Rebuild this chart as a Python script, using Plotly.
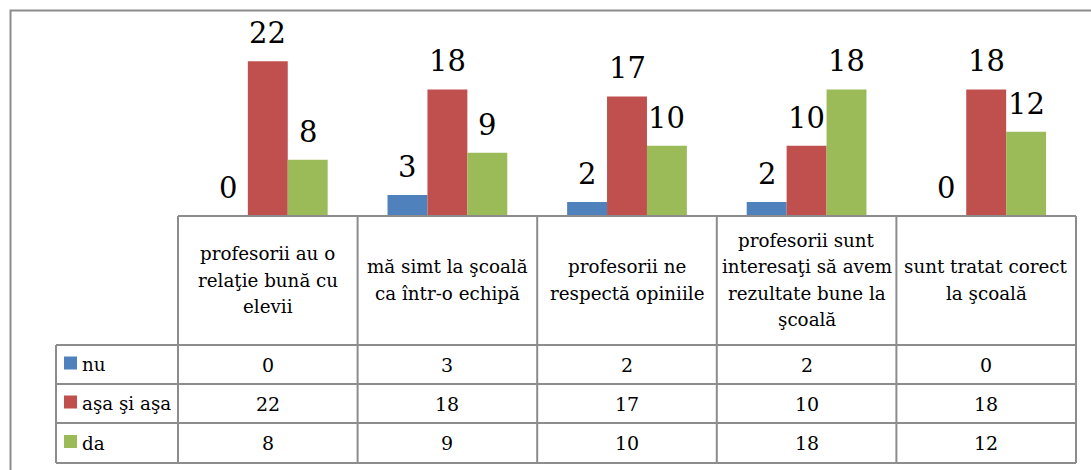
import plotly.graph_objects as go

W, H = 1091, 470

categories = [
    "profesorii au o<br>relaţie bună cu<br>elevii",
    "mă simt la şcoală<br>ca într-o echipă",
    "profesorii ne<br>respectă opiniile",
    "profesorii sunt<br>interesaţi să avem<br>rezultate bune la<br>şcoală",
    "sunt tratat corect<br>la şcoală",
]
series_names = ["nu", "aşa şi aşa", "da"]
nu = [0, 3, 2, 2, 0]
asa = [22, 18, 17, 10, 18]
da = [8, 9, 10, 18, 12]
series_values = [nu, asa, da]
colors = ["#4F81BD", "#C0504D", "#9BBB59"]

FONT = "DejaVu Serif"
GRID = "#8C8C8C"
LABEL_SIZE = 29
HEADER_SIZE = 18.3
TABLE_SIZE = 19

PX_L, PX_R = 178, 1076
PX_BASE, PX_TOP = 216, 40.25
Y_MAX = 25
ROW_LINES = [345, 384, 423, 463]
ROWLAB_L = 56


def px(x):
    return x / W


def py(y):
    return 1 - y / H


cat_w = (PX_R - PX_L) / len(categories)
bar_w = cat_w * (2 / 3) / 3

fig = go.Figure()
for name, vals, col in zip(series_names, series_values, colors):
    fig.add_trace(go.Bar(x=list(range(len(categories))), y=vals, name=name,
                         marker=dict(color=col, line=dict(width=0)),
                         showlegend=False, hoverinfo="skip"))

annotations = []
shapes = []

for i, vals in enumerate(series_values):
    for j, v in enumerate(vals):
        annotations.append(dict(x=j, y=v, xref="x", yref="y", text=str(v),
                                showarrow=False, xshift=(i - 1) * bar_w,
                                yanchor="bottom", yshift=9,
                                font=dict(family=FONT, size=LABEL_SIZE, color="black")))

LINE_SP = 26.5
HDR_CENTER = 280
for j, cat in enumerate(categories):
    lines = cat.split("<br>")
    n = len(lines)
    for k, ln in enumerate(lines):
        yc = HDR_CENTER + (k - (n - 1) / 2) * LINE_SP
        annotations.append(dict(x=j, y=py(yc), xref="x", yref="paper", text=ln,
                                showarrow=False, yanchor="middle",
                                font=dict(family=FONT, size=HEADER_SIZE, color="black")))

for r, (name, vals, col) in enumerate(zip(series_names, series_values, colors)):
    y0, y1 = ROW_LINES[r], ROW_LINES[r + 1]
    yc = (y0 + y1) / 2
    shapes.append(dict(type="rect", xref="paper", yref="paper",
                       x0=px(64), x1=px(77), y0=py(yc - 8), y1=py(yc + 5),
                       fillcolor=col, line=dict(width=0)))
    annotations.append(dict(x=px(80), y=py(yc), xref="paper", yref="paper",
                            text=name, showarrow=False, xanchor="left",
                            yanchor="middle",
                            font=dict(family=FONT, size=HEADER_SIZE, color="black")))
    for j, v in enumerate(vals):
        annotations.append(dict(x=j, y=py(yc), xref="x", yref="paper",
                                text=str(v), showarrow=False, yanchor="middle",
                                font=dict(family=FONT, size=TABLE_SIZE, color="black")))

line_style = dict(color=GRID, width=2)
shapes.append(dict(type="line", xref="paper", yref="paper",
                   x0=px(PX_L), x1=px(PX_R), y0=py(PX_BASE), y1=py(PX_BASE),
                   line=line_style))
for yl in ROW_LINES:
    shapes.append(dict(type="line", xref="paper", yref="paper",
                       x0=px(ROWLAB_L), x1=px(PX_R), y0=py(yl), y1=py(yl),
                       line=line_style))
for j in range(len(categories) + 1):
    xl = PX_L + j * cat_w
    shapes.append(dict(type="line", xref="paper", yref="paper",
                       x0=px(xl), x1=px(xl), y0=py(PX_BASE), y1=py(ROW_LINES[-1]),
                       line=line_style))
shapes.append(dict(type="line", xref="paper", yref="paper",
                   x0=px(ROWLAB_L), x1=px(ROWLAB_L), y0=py(ROW_LINES[0]),
                   y1=py(ROW_LINES[-1]), line=line_style))

shapes.append(dict(type="rect", xref="paper", yref="paper",
                   x0=px(10.5), x1=px(1100), y0=py(10.5), y1=py(490),
                   line=dict(color=GRID, width=2)))

fig.update_layout(
    width=W, height=H,
    margin=dict(l=0, r=0, t=0, b=0),
    paper_bgcolor="white", plot_bgcolor="white",
    font=dict(family=FONT),
    barmode="group", bargap=1 / 3, bargroupgap=0,
    xaxis=dict(domain=[px(PX_L), px(PX_R)], range=[-0.5, len(categories) - 0.5],
               showgrid=False, zeroline=False, showticklabels=False,
               showline=False, ticks=""),
    yaxis=dict(domain=[py(PX_BASE), py(PX_TOP)], range=[0, Y_MAX],
               showgrid=False, zeroline=False, showticklabels=False,
               showline=False, ticks=""),
    annotations=annotations,
    shapes=shapes,
)

fig.write_html("out.html", config={"displayModeBar": False},
               post_script="document.body.style.margin='0';document.body.style.overflow='hidden';")
